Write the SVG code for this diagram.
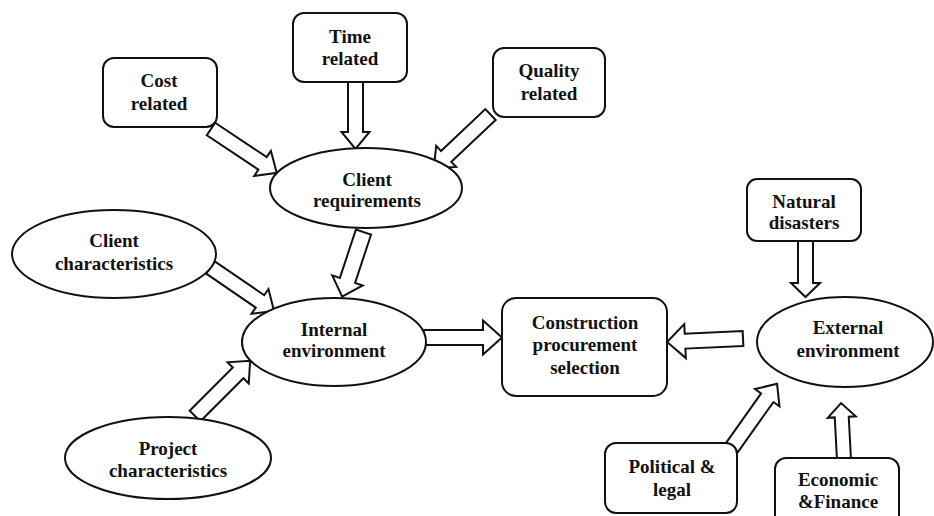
<svg xmlns="http://www.w3.org/2000/svg" width="934" height="516" viewBox="0 0 934 516">
<style>
.box{fill:#fff;stroke:#111;stroke-width:2}
.arr{fill:#fff;stroke:#111;stroke-width:2;stroke-linejoin:miter}
text{font-family:"Liberation Serif","Times New Roman",serif;font-weight:bold;font-size:19px;fill:#111;text-anchor:middle}
</style>
<rect width="934" height="516" fill="#fff"/>
<g id="connectors">
<polygon class="arr" transform="translate(211,129) rotate(33.7)" points="0,-7.5 62,-7.5 62,-15 79,0 62,15 62,7.5 0,7.5"/>
<polygon class="arr" transform="translate(355.5,82) rotate(90)" points="0,-7.5 50,-7.5 50,-14 67,0 50,14 50,7.5 0,7.5"/>
<polygon class="arr" transform="translate(490.5,114.5) rotate(136.6)" points="0,-7.5 61,-7.5 61,-14.5 78,0 61,14.5 61,7.5 0,7.5"/>
<polygon class="arr" transform="translate(363.5,232) rotate(108.3)" points="0,-8 51,-8 51,-16 68,0 51,16 51,8 0,8"/>
<polygon class="arr" transform="translate(210.5,267.5) rotate(34.4)" points="0,-7.5 60,-7.5 60,-15 77,0 60,15 60,7.5 0,7.5"/>
<polygon class="arr" transform="translate(195,416) rotate(-45)" points="0,-7.5 61,-7.5 61,-15 78,0 61,15 61,7.5 0,7.5"/>
<polygon class="arr" transform="translate(424,337.5) rotate(0)" points="0,-7.5 59,-7.5 59,-17 78,0 59,17 59,7.5 0,7.5"/>
<polygon class="arr" transform="translate(743,338.5) rotate(177.4)" points="0,-7.5 58,-7.5 58,-17 76,0 58,17 58,7.5 0,7.5"/>
<polygon class="arr" transform="translate(732,447.5) rotate(-54.7)" points="0,-7.5 61,-7.5 61,-15 78,0 61,15 61,7.5 0,7.5"/>
<polygon class="arr" transform="translate(805.5,241) rotate(90)" points="0,-7.5 42,-7.5 42,-14.5 56,0 42,14.5 42,7.5 0,7.5"/>
<polygon class="arr" transform="translate(844,460) rotate(-93)" points="0,-7 43,-7 43,-14 57,0 43,14 43,7 0,7"/>
</g>
<g id="cost-related">
<rect class="box" x="103" y="58" width="114" height="69" rx="11"/>
<text x="159" y="87">Cost</text>
<text x="159" y="110">related</text>
</g>
<g id="time-related">
<rect class="box" x="293" y="13" width="114" height="69" rx="11"/>
<text x="350" y="43">Time</text>
<text x="350" y="65">related</text>
</g>
<g id="quality-related">
<rect class="box" x="493" y="48" width="112" height="69" rx="11"/>
<text x="549" y="77">Quality</text>
<text x="549" y="100">related</text>
</g>
<g id="client-requirements">
<ellipse class="box" cx="366" cy="188" rx="96" ry="40"/>
<text x="367" y="186">Client</text>
<text x="367" y="207">requirements</text>
</g>
<g id="client-characteristics">
<ellipse class="box" cx="114" cy="254" rx="102" ry="44"/>
<text x="114" y="247">Client</text>
<text x="114" y="270">characteristics</text>
</g>
<g id="internal-environment">
<ellipse class="box" cx="334" cy="342" rx="92" ry="44"/>
<text x="334" y="336">Internal</text>
<text x="334" y="357">environment</text>
</g>
<g id="project-characteristics">
<ellipse class="box" cx="168" cy="458" rx="103" ry="41"/>
<text x="168" y="455">Project</text>
<text x="168" y="477">characteristics</text>
</g>
<g id="construction-procurement-selection">
<rect class="box" x="502" y="298" width="165" height="98" rx="14"/>
<text x="585" y="329">Construction</text>
<text x="585" y="351">procurement</text>
<text x="585" y="374">selection</text>
</g>
<g id="natural-disasters">
<rect class="box" x="747" y="179" width="114" height="62" rx="10"/>
<text x="804" y="208">Natural</text>
<text x="804" y="229">disasters</text>
</g>
<g id="external-environment">
<ellipse class="box" cx="845" cy="342" rx="88" ry="45"/>
<text x="848" y="334">External</text>
<text x="848" y="357">environment</text>
</g>
<g id="political-legal">
<rect class="box" x="605" y="443" width="132" height="70" rx="11"/>
<text x="672" y="473">Political &amp;</text>
<text x="672" y="496">legal</text>
</g>
<g id="economic-finance">
<rect class="box" x="775" y="458" width="124" height="75" rx="11"/>
<text x="838" y="486">Economic</text>
<text x="838" y="508">&amp;Finance</text>
</g>
</svg>
